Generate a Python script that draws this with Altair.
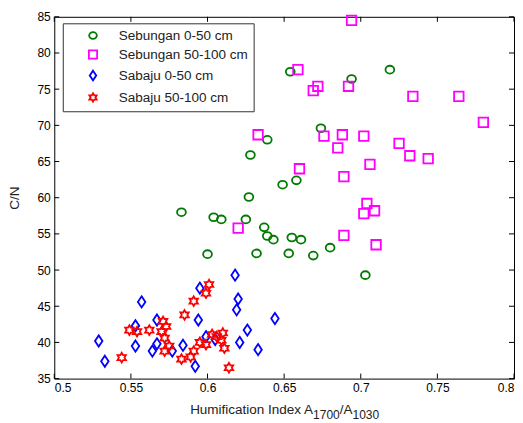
import altair as alt
import pandas as pd

# ---- data ----
seb0_x = [0.654, 0.694, 0.719, 0.674, 0.639, 0.628, 0.649, 0.658, 0.627, 0.583, 0.604, 0.609,
          0.625, 0.637, 0.639, 0.643, 0.655, 0.661, 0.680, 0.600, 0.632, 0.653, 0.669, 0.703]
seb0_y = [77.4, 76.4, 77.7, 69.6, 68.0, 65.9, 61.8, 62.4, 60.1, 58.0, 57.3, 57.0,
          57.0, 55.9, 54.7, 54.2, 54.5, 54.2, 53.1, 52.2, 52.3, 52.3, 52.0, 49.3]

seb50_x = [0.694, 0.659, 0.672, 0.669, 0.692, 0.734, 0.764, 0.780, 0.676, 0.688, 0.702, 0.685, 0.725,
           0.732, 0.744, 0.706, 0.660, 0.689, 0.704, 0.709, 0.702, 0.620, 0.689, 0.710, 0.633]
seb50_y = [84.5, 77.7, 75.4, 74.8, 75.4, 74.0, 74.0, 70.4, 68.5, 68.7, 68.5, 66.9, 67.5,
           65.8, 65.4, 64.6, 64.0, 62.9, 59.2, 58.2, 57.8, 55.8, 54.8, 53.5, 68.7]

sab0_x = [0.529, 0.533, 0.553, 0.553, 0.557, 0.564, 0.567, 0.567, 0.577, 0.584, 0.592,
          0.594, 0.595, 0.599, 0.605, 0.618, 0.620, 0.619, 0.621, 0.626, 0.633, 0.644]
sab0_y = [40.2, 37.4, 42.3, 39.5, 45.6, 38.8, 39.8, 43.1, 38.8, 39.6, 36.7,
          43.1, 47.5, 40.8, 40.4, 49.3, 46.0, 44.5, 40.0, 41.7, 39.0, 43.3]

sab50_x = [0.544, 0.549, 0.554, 0.562, 0.571, 0.573, 0.570, 0.572, 0.572, 0.575, 0.585, 0.583, 0.589,
           0.591, 0.591, 0.595, 0.599, 0.599, 0.601, 0.603, 0.606, 0.610, 0.609, 0.611, 0.614]
sab50_y = [37.9, 41.7, 41.5, 41.7, 42.9, 42.2, 41.5, 40.6, 38.8, 39.5, 43.8, 37.7, 38.0,
           38.8, 45.7, 40.0, 39.7, 46.8, 48.0, 41.1, 40.8, 41.3, 40.3, 39.2, 36.5]

series_names = ["Sebungan 0-50 cm", "Sebungan 50-100 cm", "Sabaju 0-50 cm", "Sabaju 50-100 cm"]
x_ticks = [0.5, 0.55, 0.6, 0.65, 0.7, 0.75, 0.8]
y_ticks = [35, 40, 45, 50, 55, 60, 65, 70, 75, 80, 85]
x_title_parts = ["Humification Index A", "1700", "/A", "1030"]

# ---- styling ----
colors = ["#007a00", "#ff00ff", "#0000ff", "#ff0000"]
circle_path = "M0.88,0A0.88,0.78 0 1,1 -0.88,0A0.88,0.78 0 1,1 0.88,0Z"
square_path = "M-0.95,-0.95L0.95,-0.95L0.95,0.95L-0.95,0.95Z"
diamond_path = "M0,-1.12L0.75,0L0,1.12L-0.75,0Z"
hexagram_path = ("M0,-0.97L0.28,-0.485L0.84,-0.485L0.56,0L0.84,0.485L0.28,0.485L0,0.97"
                 "L-0.28,0.485L-0.84,0.485L-0.56,0L-0.84,-0.485L-0.28,-0.485Z")
shapes = [circle_path, square_path, diamond_path, hexagram_path]

frames = []
for name, xs, ys in [(series_names[0], seb0_x, seb0_y), (series_names[1], seb50_x, seb50_y),
                     (series_names[2], sab0_x, sab0_y), (series_names[3], sab50_x, sab50_y)]:
    frames.append(pd.DataFrame({"x": xs, "y": ys, "series": name}))
df = pd.concat(frames, ignore_index=True)

W, H = 460, 362
TL = 5
FONT = "Liberation Sans"
TFS = 13.5   # title font size
SFS = 12     # subscript font size

xscale = alt.Scale(domain=[0.5, 0.8], nice=False, zero=False)
yscale = alt.Scale(domain=[35, 85], nice=False, zero=False)

xaxis = alt.Axis(values=x_ticks, title=None,
                 labelExpr="datum.value == 0.5 ? '0.5' : datum.value == 0.6 ? '0.6' : datum.value == 0.7 ? '0.7' : datum.value == 0.8 ? '0.8' : format(datum.value, '.2f')")
yaxis = alt.Axis(values=y_ticks, title="C/N")

points = alt.Chart(df).mark_point(filled=False, strokeWidth=1.8, opacity=1, size=100).encode(
    x=alt.X("x:Q", scale=xscale, axis=xaxis),
    y=alt.Y("y:Q", scale=yscale, axis=yaxis),
    color=alt.Color("series:N", scale=alt.Scale(domain=series_names, range=colors),
                    legend=alt.Legend(title=None, orient="none", legendX=8.5, legendY=6.5,
                                      direction="vertical", strokeColor="#333333", fillColor="white",
                                      padding=5.5, symbolSize=75, symbolStrokeWidth=1.8,
                                      labelFont=FONT, labelFontSize=13.5, labelColor="#222222",
                                      rowPadding=4, symbolOffset=18, labelOffset=19)),
    shape=alt.Shape("series:N", scale=alt.Scale(domain=series_names, range=shapes)),
)

xt_df = pd.DataFrame({"t": x_ticks})
yt_df = pd.DataFrame({"t": y_ticks})
tick_style = dict(color="black", strokeWidth=1)

bx = alt.Chart(xt_df).mark_rule(**tick_style).encode(
    x=alt.X("t:Q", scale=xscale, axis=xaxis), y=alt.value(H), y2=alt.value(H - TL))
tx = alt.Chart(xt_df).mark_rule(**tick_style).encode(
    x=alt.X("t:Q", scale=xscale, axis=xaxis), y=alt.value(0), y2=alt.value(TL))
ly = alt.Chart(yt_df).mark_rule(**tick_style).encode(
    y=alt.Y("t:Q", scale=yscale, axis=yaxis), x=alt.value(0), x2=alt.value(TL))
ry = alt.Chart(yt_df).mark_rule(**tick_style).encode(
    y=alt.Y("t:Q", scale=yscale, axis=yaxis), x=alt.value(W), x2=alt.value(W - TL))

# x-axis title with subscripts, built from text pieces (Arial/Liberation metrics)
sub_w = 4 * 0.556 * SFS
slash_a_w = (0.278 + 0.667) * TFS
main_w = 124.0
total_w = main_w + 2 * sub_w + slash_a_w
x0 = W / 2 - total_w / 2 + main_w
base_y = H + 35.5
sub_y = H + 40
tstyle = dict(font=FONT, color="#222222", baseline="alphabetic")
t_main = alt.Chart(pd.DataFrame({"s": [x_title_parts[0]]})).mark_text(
    align="right", fontSize=TFS, **tstyle).encode(text="s:N", x=alt.value(x0), y=alt.value(base_y))
t_sub1 = alt.Chart(pd.DataFrame({"s": [x_title_parts[1]]})).mark_text(
    align="left", fontSize=SFS, **tstyle).encode(text="s:N", x=alt.value(x0), y=alt.value(sub_y))
t_sl = alt.Chart(pd.DataFrame({"s": [x_title_parts[2]]})).mark_text(
    align="left", fontSize=TFS, **tstyle).encode(text="s:N", x=alt.value(x0 + sub_w), y=alt.value(base_y))
t_sub2 = alt.Chart(pd.DataFrame({"s": [x_title_parts[3]]})).mark_text(
    align="left", fontSize=SFS, **tstyle).encode(text="s:N", x=alt.value(x0 + sub_w + slash_a_w),
                                                 y=alt.value(sub_y))

chart = alt.layer(points, bx, tx, ly, ry, t_main, t_sub1, t_sl, t_sub2).properties(
    width=W, height=H,
    autosize=alt.AutoSizeParams(type="none"),
    padding={"left": 46.3, "top": 8.7, "right": 1, "bottom": 44},
).configure_view(
    stroke="black", strokeWidth=1
).configure_axis(
    grid=False, domain=False, tickSize=0,
    labelFont=FONT, labelFontSize=12, labelColor="black", labelPadding=4,
    titleFont=FONT, titleFontSize=13.5, titleColor="#222222", titleFontWeight="normal",
).configure_axisY(titlePadding=15)

chart.save("out.html", embed_options={"renderer": "svg", "actions": False})
